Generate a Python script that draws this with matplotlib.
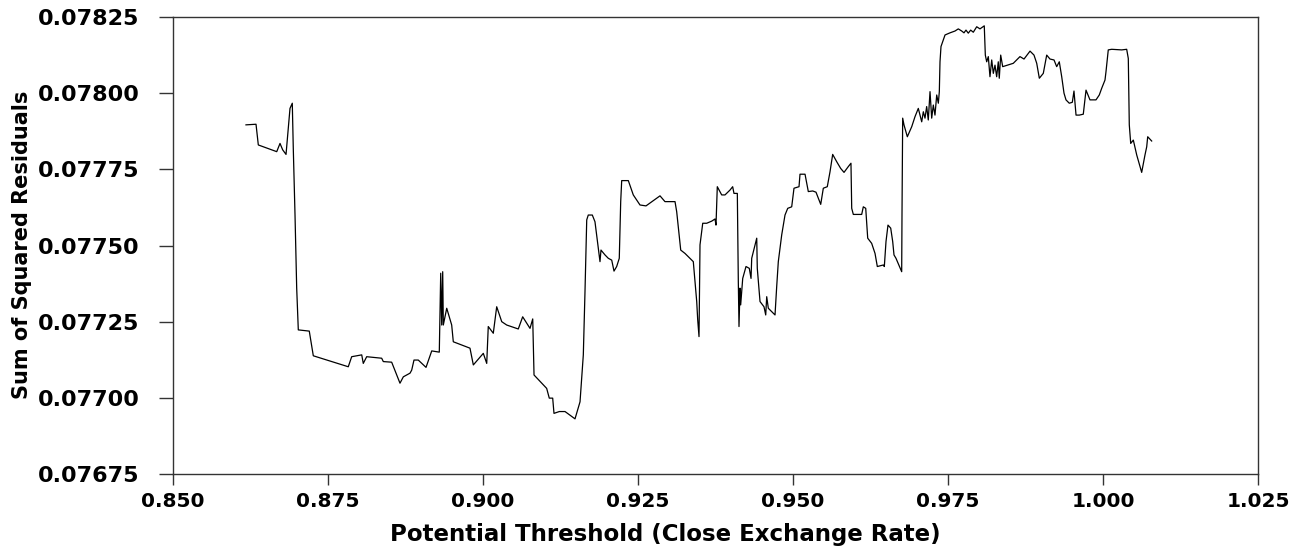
import matplotlib
matplotlib.use("Agg")
import matplotlib.pyplot as plt
from matplotlib.ticker import FixedLocator, FormatStrFormatter

# Potential threshold (x) and sum of squared residuals (y)
threshold = [
    0.86177, 0.86339, 0.86376, 0.86673, 0.86726, 0.86769, 0.86823, 0.86887, 0.86924, 0.86940,
    0.86968, 0.86995, 0.87021, 0.87198, 0.87263, 0.87827, 0.87882, 0.88044, 0.88069, 0.88124,
    0.88366, 0.88392, 0.88527, 0.88661, 0.88715, 0.88823, 0.88850, 0.88887, 0.88956, 0.89081,
    0.89173, 0.89295, 0.89318, 0.89334, 0.89350, 0.89360, 0.89415, 0.89495, 0.89521, 0.89790,
    0.89844, 0.90005, 0.90060, 0.90085, 0.90166, 0.90221, 0.90302, 0.90382, 0.90569, 0.90640,
    0.90758, 0.90802, 0.90823, 0.91027, 0.91069, 0.91124, 0.91145, 0.91231, 0.91323, 0.91484,
    0.91565, 0.91618, 0.91645, 0.91673, 0.91698, 0.91763, 0.91806, 0.91860, 0.91887, 0.91903,
    0.91968, 0.92021, 0.92076, 0.92113, 0.92156, 0.92198, 0.92221, 0.92237, 0.92344, 0.92424,
    0.92532, 0.92629, 0.92855, 0.92935, 0.93097, 0.93124, 0.93189, 0.93258, 0.93392, 0.93419,
    0.93447, 0.93463, 0.93484, 0.93500, 0.93544, 0.93608, 0.93689, 0.93742, 0.93758, 0.93779,
    0.93850, 0.93903, 0.93984, 0.94027, 0.94048, 0.94102, 0.94118, 0.94129, 0.94145, 0.94156,
    0.94189, 0.94242, 0.94295, 0.94323, 0.94334, 0.94415, 0.94424, 0.94468, 0.94532, 0.94560,
    0.94576, 0.94602, 0.94710, 0.94737, 0.94763, 0.94818, 0.94871, 0.94915, 0.94979, 0.95016,
    0.95097, 0.95113, 0.95194, 0.95247, 0.95318, 0.95371, 0.95447, 0.95489, 0.95553, 0.95597,
    0.95640, 0.95705, 0.95769, 0.95823, 0.95892, 0.95935, 0.95947, 0.95973, 0.96108, 0.96134,
    0.96173, 0.96205, 0.96269, 0.96323, 0.96360, 0.96456, 0.96473, 0.96500, 0.96532, 0.96576,
    0.96608, 0.96629, 0.96661, 0.96753, 0.96758, 0.96769, 0.96790, 0.96844, 0.96915, 0.96968,
    0.97021, 0.97048, 0.97076, 0.97102, 0.97129, 0.97156, 0.97182, 0.97210, 0.97237, 0.97263,
    0.97290, 0.97318, 0.97344, 0.97360, 0.97371, 0.97387, 0.97452, 0.97532, 0.97613, 0.97666,
    0.97721, 0.97758, 0.97790, 0.97827, 0.97866, 0.97908, 0.97963, 0.98016, 0.98085, 0.98102,
    0.98124, 0.98150, 0.98177, 0.98205, 0.98231, 0.98258, 0.98285, 0.98311, 0.98327, 0.98350,
    0.98382, 0.98553, 0.98661, 0.98726, 0.98823, 0.98887, 0.98931, 0.98973, 0.99037, 0.99092,
    0.99145, 0.99210, 0.99253, 0.99295, 0.99334, 0.99371, 0.99403, 0.99456, 0.99505, 0.99532,
    0.99565, 0.99618, 0.99682, 0.99726, 0.99790, 0.99887, 0.99940, 0.99979, 1.00032, 1.00048,
    1.00085, 1.00140, 1.00302, 1.00382, 1.00408, 1.00424, 1.00447, 1.00489, 1.00544, 1.00624,
    1.00677, 1.00705, 1.00721, 1.00785,
]
ssr = [
    0.077896, 0.077898, 0.077830, 0.077808, 0.077835, 0.077814, 0.077799, 0.077950, 0.077967, 0.077819,
    0.077600, 0.077360, 0.077223, 0.077219, 0.077138, 0.077102, 0.077135, 0.077141, 0.077113, 0.077135,
    0.077130, 0.077119, 0.077117, 0.077048, 0.077069, 0.077081, 0.077091, 0.077124, 0.077124, 0.077100,
    0.077154, 0.077150, 0.077409, 0.077239, 0.077414, 0.077239, 0.077294, 0.077239, 0.077184, 0.077163,
    0.077108, 0.077146, 0.077113, 0.077234, 0.077212, 0.077299, 0.077250, 0.077239, 0.077226, 0.077266,
    0.077228, 0.077259, 0.077075, 0.077031, 0.076999, 0.076999, 0.076949, 0.076955, 0.076955, 0.076931,
    0.076987, 0.077141, 0.077348, 0.077584, 0.077600, 0.077600, 0.077578, 0.077491, 0.077447, 0.077485,
    0.077469, 0.077458, 0.077452, 0.077416, 0.077431, 0.077458, 0.077644, 0.077713, 0.077713, 0.077666,
    0.077633, 0.077630, 0.077663, 0.077644, 0.077644, 0.077611, 0.077485, 0.077474, 0.077447, 0.077381,
    0.077316, 0.077256, 0.077201, 0.077502, 0.077573, 0.077573, 0.077580, 0.077587, 0.077567, 0.077693,
    0.077666, 0.077666, 0.077682, 0.077693, 0.077671, 0.077671, 0.077381, 0.077234, 0.077360, 0.077305,
    0.077392, 0.077431, 0.077425, 0.077392, 0.077458, 0.077524, 0.077425, 0.077316, 0.077299, 0.077272,
    0.077332, 0.077294, 0.077272, 0.077365, 0.077447, 0.077535, 0.077600, 0.077622, 0.077627, 0.077688,
    0.077693, 0.077734, 0.077734, 0.077677, 0.077679, 0.077675, 0.077635, 0.077688, 0.077693, 0.077742,
    0.077799, 0.077775, 0.077753, 0.077740, 0.077759, 0.077770, 0.077622, 0.077602, 0.077602, 0.077627,
    0.077622, 0.077524, 0.077507, 0.077474, 0.077431, 0.077436, 0.077431, 0.077513, 0.077567, 0.077557,
    0.077513, 0.077469, 0.077458, 0.077414, 0.077600, 0.077918, 0.077896, 0.077857, 0.077890, 0.077923,
    0.077950, 0.077928, 0.077906, 0.077939, 0.077918, 0.077956, 0.077912, 0.078005, 0.077918, 0.077961,
    0.077928, 0.077994, 0.077967, 0.078005, 0.078103, 0.078153, 0.078191, 0.078198, 0.078204, 0.078211,
    0.078204, 0.078198, 0.078207, 0.078197, 0.078207, 0.078200, 0.078218, 0.078211, 0.078221, 0.078125,
    0.078103, 0.078120, 0.078054, 0.078109, 0.078065, 0.078092, 0.078054, 0.078103, 0.078049, 0.078125,
    0.078087, 0.078098, 0.078120, 0.078112, 0.078138, 0.078125, 0.078098, 0.078049, 0.078065, 0.078125,
    0.078112, 0.078109, 0.078087, 0.078103, 0.078054, 0.078000, 0.077978, 0.077967, 0.077970, 0.078007,
    0.077928, 0.077928, 0.077931, 0.078010, 0.077978, 0.077978, 0.077994, 0.078016, 0.078043, 0.078070,
    0.078142, 0.078144, 0.078142, 0.078144, 0.078114, 0.077896, 0.077835, 0.077846, 0.077797, 0.077740,
    0.077797, 0.077824, 0.077857, 0.077843,
]

x_ticks = [0.850, 0.875, 0.900, 0.925, 0.950, 0.975, 1.000, 1.025]
y_ticks = [0.07675, 0.07700, 0.07725, 0.07750, 0.07775, 0.07800, 0.07825]
x_title = "Potential Threshold (Close Exchange Rate)"
y_title = "Sum of Squared Residuals"

W, H = 1307, 558
fig = plt.figure(figsize=(W / 100, H / 100), dpi=100)
ax = fig.add_axes([173 / W, 1 - 474 / H, (1258 - 173) / W, (474 - 17) / H])

ax.plot(threshold, ssr, color="black", linewidth=0.9)

ax.set_xlim(x_ticks[0], x_ticks[-1])
ax.set_ylim(y_ticks[0], y_ticks[-1])
ax.xaxis.set_major_locator(FixedLocator(x_ticks))
ax.yaxis.set_major_locator(FixedLocator(y_ticks))
ax.xaxis.set_major_formatter(FormatStrFormatter("%.3f"))
ax.yaxis.set_major_formatter(FormatStrFormatter("%.5f"))

for s in ax.spines.values():
    s.set_linewidth(1.0)
    s.set_color("#333333")

ax.tick_params(axis="y", direction="out", length=10, width=1.0, pad=14, colors="#333333",
               labelcolor="black")
ax.tick_params(axis="x", direction="out", length=8, width=1.0, pad=5, colors="#333333",
               labelcolor="black")
for lab in ax.get_yticklabels():
    lab.set_fontfamily("DejaVu Sans")
    lab.set_fontweight("bold")
    lab.set_fontsize(16)
for lab in ax.get_xticklabels():
    lab.set_fontfamily("DejaVu Sans")
    lab.set_fontweight("bold")
    lab.set_fontsize(14.5)

fig.text(665 / W, 1 - 535 / H, x_title, ha="center", va="center",
         fontsize=16.5, fontweight="bold", family="DejaVu Sans")
fig.text(22 / W, 1 - 245 / H, y_title, ha="center", va="center", rotation=90,
         fontsize=15, fontweight="bold", family="DejaVu Sans")

fig.savefig("out.png", dpi=100)
